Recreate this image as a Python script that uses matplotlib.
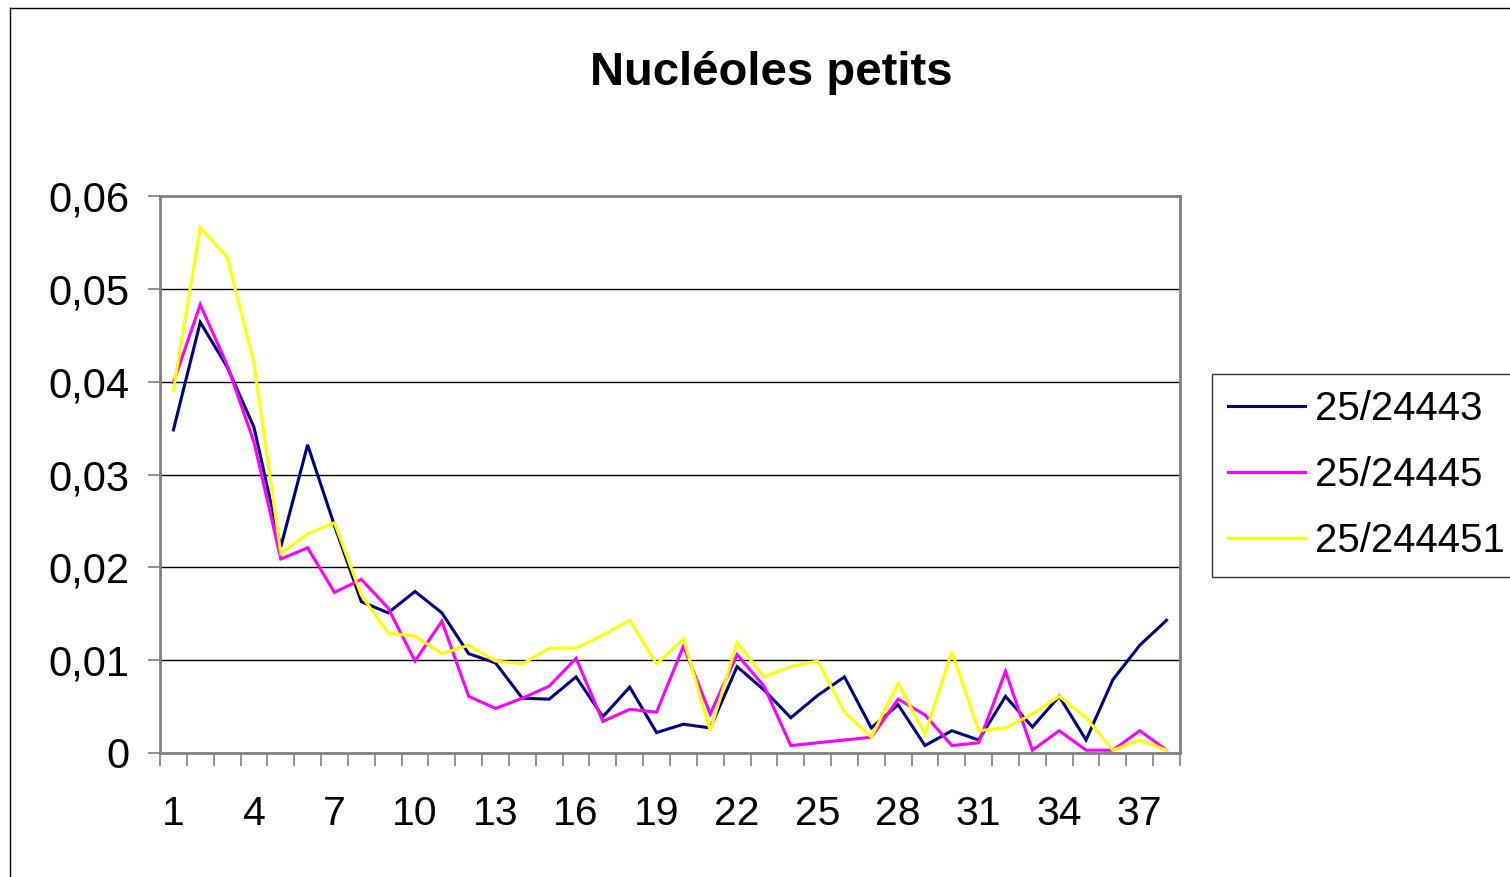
import matplotlib
matplotlib.use("Agg")
import matplotlib.pyplot as plt
from matplotlib.lines import Line2D
from matplotlib.ticker import FixedLocator, FuncFormatter

plt.rcParams['font.family'] = ['Liberation Sans', 'DejaVu Sans']

title = "Nucléoles petits"
categories = list(range(1, 39))
labels = ["25/24443", "25/24445", "25/244451"]
colors = ["#000080", "#FF00FF", "#FFFF00"]

s_24443 = [0.0348, 0.0464, 0.0416, 0.0351, 0.0222, 0.0332, 0.0245, 0.0163, 0.0151, 0.0174,
           0.0151, 0.0107, 0.0097, 0.0059, 0.0058, 0.0082, 0.0039, 0.0071, 0.0022, 0.0031,
           0.0027, 0.0093, 0.0068, 0.0038, 0.0062, 0.0082, 0.0027, 0.0052, 0.0008, 0.0024,
           0.0014, 0.0061, 0.0028, 0.0061, 0.0014, 0.0079, 0.0116, 0.0143]
s_24445 = [0.0399, 0.0483, 0.0418, 0.0335, 0.0209, 0.0221, 0.0173, 0.0187, 0.0156, 0.0099,
           0.0142, 0.0061, 0.0048, 0.0059, 0.0072, 0.0102, 0.0034, 0.0047, 0.0044, 0.0115,
           0.0042, 0.0106, 0.0072, 0.0008, 0.0011, 0.0014, 0.0017, 0.0058, 0.0041, 0.0008,
           0.0011, 0.0088, 0.0003, 0.0024, 0.0003, 0.0003, 0.0024, 0.0003]
s_244451 = [0.0391, 0.0566, 0.0534, 0.0420, 0.0215, 0.0236, 0.0248, 0.0170, 0.0129, 0.0126,
            0.0107, 0.0116, 0.0099, 0.0096, 0.0113, 0.0113, 0.0127, 0.0143, 0.0096, 0.0123,
            0.0024, 0.0119, 0.0082, 0.0093, 0.0099, 0.0044, 0.0017, 0.0075, 0.0020, 0.0109,
            0.0024, 0.0027, 0.0042, 0.0061, 0.0038, 0.0003, 0.0014, 0.0003]
series = [s_24443, s_24445, s_244451]

yticks = [0, 0.01, 0.02, 0.03, 0.04, 0.05, 0.06]
xtick_labels = [1, 4, 7, 10, 13, 16, 19, 22, 25, 28, 31, 34, 37]

W, H = 1510, 877
fig = plt.figure(figsize=(W / 100, H / 100), dpi=100)
ax = fig.add_axes([160 / W, 1 - 753 / H, (1180 - 160) / W, (753 - 196) / H])

for vals, lab, col in zip(series, labels, colors):
    ax.plot(categories, vals, color=col, lw=2.2, label=lab, solid_joinstyle='miter')

ax.set_xlim(0.5, len(categories) + 0.5)
ax.set_ylim(0, 0.06)
ax.set_yticks(yticks)
ax.yaxis.set_major_formatter(FuncFormatter(lambda v, p: "0" if v == 0 else f"{v:.2f}".replace(".", ",")))
ax.set_xticks(xtick_labels)
ax.set_xticklabels([str(v) for v in xtick_labels])
ax.xaxis.set_minor_locator(FixedLocator([c + 0.5 for c in [0] + categories]))
ax.tick_params(axis='x', which='major', length=0, pad=30, labelsize=29.5)
ax.tick_params(axis='x', which='minor', length=9, width=1.2, color='#808080', direction='out')
ax.tick_params(axis='y', which='major', length=9, width=1.2, color='#808080', direction='out', pad=13, labelsize=30)

for y in yticks[1:-1]:
    ax.axhline(y, color='black', lw=1.0, zorder=0.5)
for sp in ax.spines.values():
    sp.set_color('#808080')
    sp.set_linewidth(2)

fig.text(771 / W, 1 - 73 / H, title, ha='center', va='center', fontsize=34, fontweight='bold')

leg = ax.legend(loc='upper left', bbox_to_anchor=(1212 / W, 1 - 374 / H), bbox_transform=fig.transFigure,
                fontsize=29, frameon=True, fancybox=False, edgecolor='black', borderpad=0.4,
                labelspacing=0.7, handlelength=1.9, handletextpad=0.25, borderaxespad=0)
leg.get_frame().set_linewidth(1.0)

fig.add_artist(Line2D([10 / W, 10 / W], [0, 1 - 8 / H], transform=fig.transFigure, color='black', lw=1))
fig.add_artist(Line2D([10 / W, 1], [1 - 8 / H, 1 - 8 / H], transform=fig.transFigure, color='black', lw=1))

fig.savefig("out.png", dpi=100)
